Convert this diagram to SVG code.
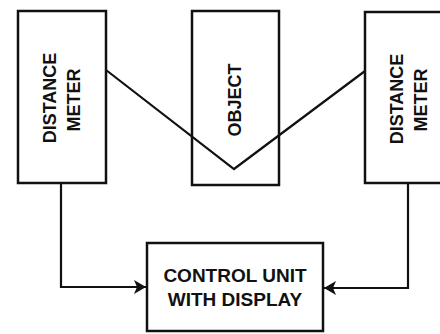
<svg xmlns="http://www.w3.org/2000/svg" width="440" height="334" viewBox="0 0 440 334">
<defs>
<style>
.box{fill:#fff;stroke:#111;stroke-width:2.5}
.ln{fill:none;stroke:#111;stroke-width:2.2}
.t{font-family:"Liberation Sans",Arial,sans-serif;font-weight:bold;font-size:18px;fill:#111;text-anchor:middle}
</style>
<marker id="ah" viewBox="0 0 12 14" refX="12" refY="7" markerWidth="12" markerHeight="14" markerUnits="userSpaceOnUse" orient="auto">
<path d="M0,0 L12,7 L0,14 L3,7 Z" fill="#111"/>
</marker>
</defs>
<rect width="440" height="334" fill="#fff"/>
<g id="meter-left">
<rect class="box" x="18" y="11" width="88" height="172"/>
<text class="t" transform="translate(56,98) rotate(-90)">DISTANCE</text>
<text class="t" transform="translate(80,100) rotate(-90)">METER</text>
</g>
<g id="object">
<rect class="box" x="192" y="11" width="87" height="174"/>
<text class="t" transform="translate(241,100) rotate(-90)">OBJECT</text>
</g>
<g id="meter-right">
<rect class="box" x="365" y="12" width="90" height="171"/>
<text class="t" transform="translate(403,99) rotate(-90)">DISTANCE</text>
<text class="t" transform="translate(427,100) rotate(-90)">METER</text>
</g>
<g id="control">
<rect class="box" x="147" y="243" width="176" height="88"/>
<text class="t" style="font-size:19px" x="235" y="282">CONTROL UNIT</text>
<text class="t" style="font-size:19px" x="235" y="306">WITH DISPLAY</text>
</g>
<g id="connectors">
<polyline class="ln" points="106,70 234,169 365,71"/>
<polyline class="ln" points="61,184 61,287 146,287" marker-end="url(#ah)"/>
<polyline class="ln" points="408,184 408,288 324,288" marker-end="url(#ah)"/>
</g>
</svg>
